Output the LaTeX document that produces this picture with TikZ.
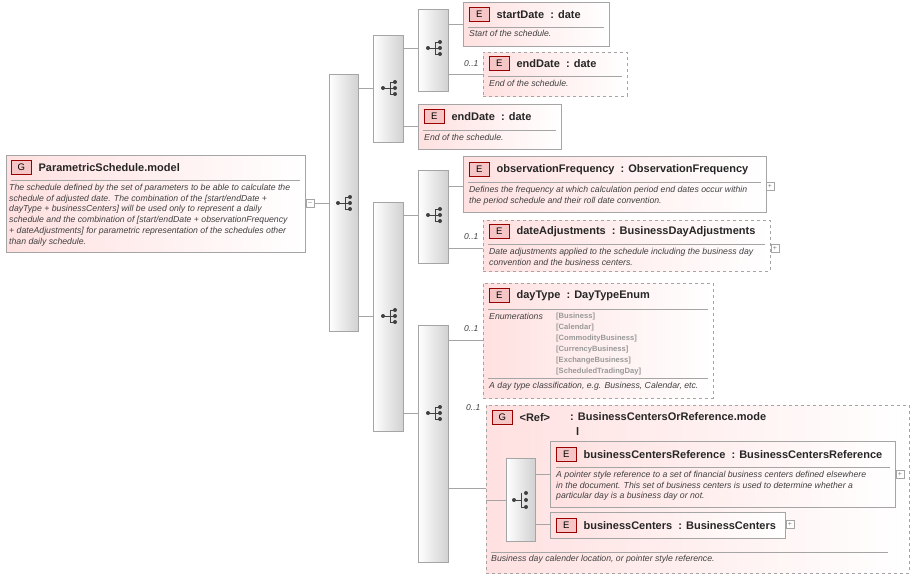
\documentclass[tikz,border=0pt]{standalone}
\usepackage{fontspec}
\setmainfont{Liberation Sans}
\usetikzlibrary{positioning,calc}
\definecolor{boxline}{RGB}{165,165,165}
\definecolor{badge}{RGB}{240,160,160}
\tikzset{
  elem/.style = {draw=boxline, left color=red!12, right color=white, anchor=north west, inner sep=0pt},
  opt/.style = {elem, dashed},
  comp/.style = {draw=boxline, left color=white, right color=black!18, anchor=north west, inner sep=0pt},
  badge/.style = {draw=red!60!black, fill=badge!60, font=\fontsize{9.5}{10}\selectfont, minimum width=20pt, minimum height=14pt, inner sep=0pt, anchor=north west},
  title/.style = {font=\fontsize{11}{12}\selectfont\bfseries, anchor=west, inner sep=0pt, text=black!85},
  desc/.style = {font=\fontsize{8.7}{10.7}\selectfont\itshape, anchor=north west, inner sep=0pt, text=black!75, align=left},
  card/.style = {font=\fontsize{8.5}{9}\selectfont\itshape, text=black!75, inner sep=0pt},
  toggle/.style = {draw=boxline, fill=white, minimum size=8pt, inner sep=0pt, font=\fontsize{7}{7}\selectfont, text=black!50},
  link/.style = {draw=boxline}
}
\newcommand{\seqicon}[1]{%
  \fill[black!75] ($(#1)+(-7,0)$) circle (2);
  \draw[black!75, line width=0.8pt] ($(#1)+(-7,0)$) -- ($(#1)+(0,0)$) ($(#1)+(0,-6)$) -- ($(#1)+(0,6)$)
    ($(#1)+(0,-6)$) -- ($(#1)+(5,-6)$) ($(#1)+(0,6)$) -- ($(#1)+(5,6)$) ($(#1)+(0,0)$) -- ($(#1)+(5,0)$);
  \fill[black!75] ($(#1)+(5,-6)$) circle (2) ($(#1)+(5,0)$) circle (2) ($(#1)+(5,6)$) circle (2);}
\newcommand{\card}[2]{\node[card, anchor=west] at (#1) {#2};}
\begin{document}
\begin{tikzpicture}[x=1pt,y=-1pt]
\useasboundingbox (0,0) rectangle (914,582);

% main group
\node[elem, minimum width=299pt, minimum height=97pt] (psm) at (6,155) {};
\node[badge] (psmB) at (11,160) {G};
\node[title, right=7pt of psmB] {ParametricSchedule.model};
\draw[boxline] (11,180) -- (300,180);
\node[desc] at (9,184) {The schedule defined by the set of parameters to be able to calculate the\\schedule of adjusted date. The combination of the [start/endDate +\\dayType + businessCenters] will be used only to represent a daily\\schedule and the combination of [start/endDate + observationFrequency\\+ dateAdjustments] for parametric representation of the schedules other\\than daily schedule.};
\node[toggle] (psmT) at (310,203) {--};

% compositors
\node[comp, minimum width=29pt, minimum height=257pt] (s1) at (329,74) {};
\node[comp, minimum width=30pt, minimum height=107pt] (s2) at (373,35) {};
\node[comp, minimum width=30pt, minimum height=229pt] (s3) at (373,202) {};
\node[comp, minimum width=30pt, minimum height=82pt] (s4) at (418,9) {};
\node[comp, minimum width=30pt, minimum height=93pt] (s5) at (418,170) {};
\node[comp, minimum width=30pt, minimum height=237pt] (s6) at (418,325) {};
\seqicon{345,203} \seqicon{390,88} \seqicon{390,316}
\seqicon{435,48} \seqicon{435,215} \seqicon{435,413}

% dates
\node[elem, minimum width=146pt, minimum height=44pt] (start) at (463,2) {};
\node[badge] (startB) at (469,7) {E};
\node[title, right=7pt of startB] {startDate\ \ : date};
\draw[boxline] (468,27) -- (604,27);
\node[desc] at (469,30) {Start of the schedule.};

\node[opt, minimum width=144pt, minimum height=44pt] (endo) at (483,52) {};
\node[badge] (endoB) at (489,56) {E};
\node[title, right=7pt of endoB] {endDate\ \ : date};
\draw[boxline] (488,76) -- (622,76);
\node[desc] at (489,80) {End of the schedule.};
\card{464,64}{0..1}

\node[elem, minimum width=143pt, minimum height=45pt] (end) at (418,104) {};
\node[badge] (endB) at (424,109) {E};
\node[title, right=7pt of endB] {endDate\ \ : date};
\draw[boxline] (423,130) -- (556,130);
\node[desc] at (424,134) {End of the schedule.};

% frequency and adjustments
\node[elem, minimum width=303pt, minimum height=56pt] (obs) at (463,156) {};
\node[badge] (obsB) at (469,162) {E};
\node[title, right=7pt of obsB] {observationFrequency\ \ : ObservationFrequency};
\draw[boxline] (468,182) -- (761,182);
\node[desc] at (469,186) {Defines the frequency at which calculation period end dates occur within\\the period schedule and their roll date convention.};
\node[toggle] (obsT) at (770,186) {+};

\node[opt, minimum width=287pt, minimum height=51pt] (adj) at (483,220) {};
\node[badge] (adjB) at (489,224) {E};
\node[title, right=7pt of adjB] {dateAdjustments\ \ : BusinessDayAdjustments};
\draw[boxline] (488,244) -- (765,244);
\node[desc] at (489,248) {Date adjustments applied to the schedule including the business day\\convention and the business centers.};
\node[toggle] (adjT) at (775,248) {+};
\card{464,237}{0..1}

% day type
\node[opt, minimum width=230pt, minimum height=115pt] (day) at (483,283) {};
\node[badge] (dayB) at (489,288) {E};
\node[title, right=7pt of dayB] {dayType\ \ : DayTypeEnum};
\draw[boxline] (488,309) -- (708,309);
\node[desc] at (489,313) {Enumerations};
\node[desc, font=\fontsize{7.6}{10.9}\selectfont\bfseries, text=black!40] at (556,313)
  {[Business]\\[0pt][Calendar]\\[0pt][CommodityBusiness]\\[0pt][CurrencyBusiness]\\[0pt][ExchangeBusiness]\\[0pt][ScheduledTradingDay]};
\draw[boxline] (488,378) -- (708,378);
\node[desc] at (489,382) {A day type classification, e.g. Business, Calendar, etc.};
\card{464,329}{0..1}

% business centers group
\node[opt, minimum width=423pt, minimum height=168pt] (ref) at (486,405) {};
\node[badge] (refB) at (492,410) {G};
\node[title, right=7pt of refB] {<Ref>};
\node[title] at (570,417) {: BusinessCentersOrReference.mode};
\node[title] at (576,432) {l};
\node[comp, minimum width=29pt, minimum height=83pt] (ch) at (506,458) {};
\fill[black!75] (514,500) circle (2);
\draw[black!75, line width=0.8pt] (514,500) -- (521,500) (521,493) -- (521,507) (521,507) -- (526,507);
\fill[black!75] (526,493) circle (2) (526,500) circle (2) (526,507) circle (2);
\node[elem, minimum width=345pt, minimum height=66pt] (bcr) at (550,441) {};
\node[badge] (bcrB) at (556,447) {E};
\node[title, right=7pt of bcrB] {businessCentersReference\ \ : BusinessCentersReference};
\draw[boxline] (556,467) -- (890,467);
\node[desc] at (556,471) {A pointer style reference to a set of financial business centers defined elsewhere\\in the document. This set of business centers is used to determine whether a\\particular day is a business day or not.};
\node[toggle] (bcrT) at (900,474) {+};
\node[elem, minimum width=235pt, minimum height=26pt] (bc) at (550,512) {};
\node[badge] (bcB) at (556,518) {E};
\node[title, right=7pt of bcB] {businessCenters\ \ : BusinessCenters};
\node[toggle] (bcT) at (790,524) {+};
\draw[boxline] (491,552) -- (888,552);
\node[desc] at (491,555) {Business day calender location, or pointer style reference.};
\card{466,408}{0..1}

% connectors
\draw[link] (psmT) -- (s1.west |- psmT);
\draw[link] (s1.east |- 0,88) -- (s2.west |- 0,88);
\draw[link] (s1.east |- 0,316) -- (s3.west |- 0,316);
\draw[link] (s2.east |- 0,48) -- (s4.west |- 0,48);
\draw[link] (s2.east |- 0,126) -- (end.west |- 0,126);
\draw[link] (s4.east |- 0,24) -- (start.west |- 0,24);
\draw[link] (s4.east |- 0,74) -- (endo.west |- 0,74);
\draw[link] (s3.east |- 0,215) -- (s5.west |- 0,215);
\draw[link] (s3.east |- 0,413) -- (s6.west |- 0,413);
\draw[link] (s5.east |- 0,186) -- (obs.west |- 0,186);
\draw[link] (s5.east |- 0,248) -- (adj.west |- 0,248);
\draw[link] (s6.east |- 0,340) -- (day.west |- 0,340);
\draw[link] (s6.east |- 0,488) -- (ref.west |- 0,488);
\draw[link] (ref.west |- 0,500) -- (ch.west |- 0,500);
\draw[link] (ch.east |- 0,474) -- (bcr.west |- 0,474);
\draw[link] (ch.east |- 0,524) -- (bc.west |- 0,524);
\end{tikzpicture}
\end{document}
